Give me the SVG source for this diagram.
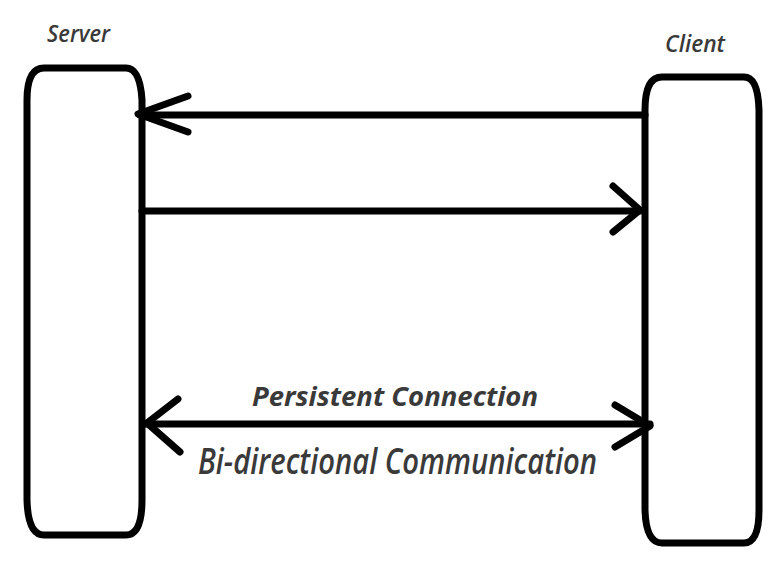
<svg xmlns="http://www.w3.org/2000/svg" width="774" height="566" viewBox="0 0 774 566">
<style>
.box{fill:none;stroke:#000;stroke-width:7;stroke-linejoin:round}
.ln{fill:none;stroke:#000;stroke-width:7;stroke-linecap:round;stroke-linejoin:round}
.lbl{font-family:"Open Sans","Liberation Sans",sans-serif;font-style:italic;fill:#3a3a3a}
</style>
<rect width="774" height="566" fill="#fff"/>
<g id="server">
<path class="box" d="M44 68 H126 Q140 68 142 100 V500 Q142 535 126 535 H44 Q28 535 27 500 V100 Q27 68 44 68 Z"/>
<text class="lbl" x="47" y="42" font-size="24" font-weight="600" textLength="63" lengthAdjust="spacingAndGlyphs">Server</text>
</g>
<g id="client">
<path class="box" d="M662 77 H744 Q758 77 759 110 V510 Q759 543 744 543 H662 Q646 543 645 510 V110 Q645 77 662 77 Z"/>
<text class="lbl" x="665" y="52" font-size="24" font-weight="600" textLength="60" lengthAdjust="spacingAndGlyphs">Client</text>
</g>
<g id="connectors">
<path class="ln" d="M645 115 H140"/>
<path class="ln" d="M188 96 L138 114 L188 132"/>
<path class="ln" d="M142 211 H640"/>
<path class="ln" d="M613 186 L640 210 L613 232"/>
<path class="ln" d="M145 424 H650"/>
<path class="ln" d="M178 399 L147 423 L180 452"/>
<path class="ln" d="M615 405 L650 426 L615 447"/>
</g>
<g id="labels">
<text class="lbl" x="252" y="406" font-size="27" font-weight="bold" fill="#333" textLength="286" lengthAdjust="spacingAndGlyphs">Persistent Connection</text>
<text class="lbl" x="198" y="474" font-size="36" font-weight="600" fill="#2a2a2a" textLength="399" lengthAdjust="spacingAndGlyphs">Bi-directional Communication</text>
</g>
</svg>
